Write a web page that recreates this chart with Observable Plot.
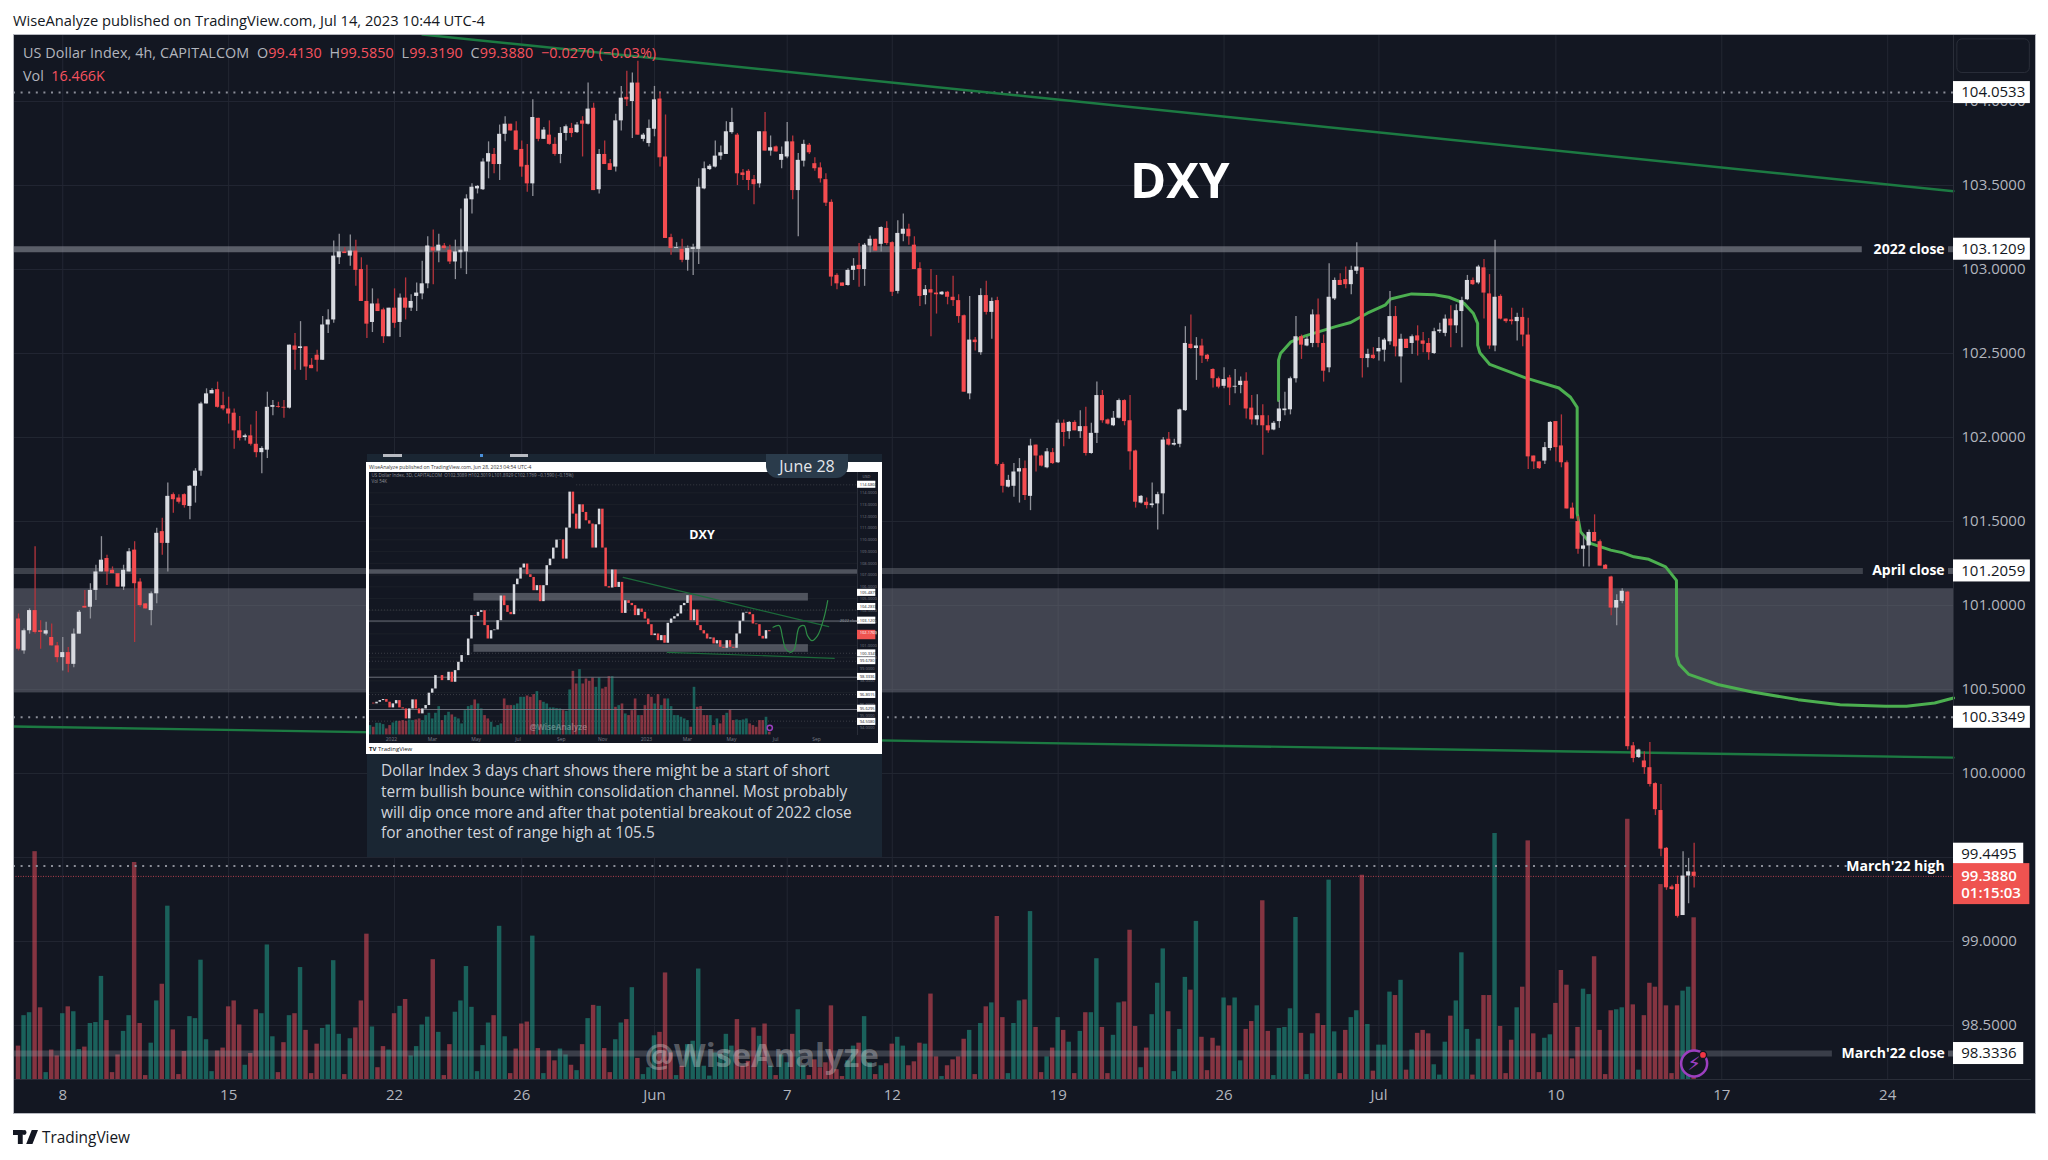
<!DOCTYPE html>
<html><head><meta charset="utf-8">
<script src="https://cdn.jsdelivr.net/npm/d3@7"></script>
<script src="https://cdn.jsdelivr.net/npm/@observablehq/plot@0.6"></script>
<style>
html,body{margin:0;padding:0;background:#fff;font-family:"Open Sans",sans-serif}
#page{position:relative;width:2048px;height:1160px;overflow:hidden;background:#fff}
.abs{position:absolute;white-space:nowrap}
#chart svg,#mini svg{display:block}
</style></head><body>
<div id="page">
<div class="abs" style="left:13px;top:10px;font-size:14.7px;line-height:20px;color:#131722">WiseAnalyze published on TradingView.com, Jul 14, 2023 10:44 UTC-4</div>
<div class="abs" id="chart" style="left:13px;top:34px;width:2023px;height:1080px;outline:1px solid #b6b8bf;outline-offset:-1px"></div>
<div class="abs" style="left:23px;top:43px;font-size:14.35px;color:#b2b5be;letter-spacing:.1px">US Dollar Index, 4h, CAPITALCOM&nbsp;&nbsp;O<span style="color:#f7525f">99.4130</span>&nbsp;&nbsp;H<span style="color:#f7525f">99.5850</span>&nbsp;&nbsp;L<span style="color:#f7525f">99.3190</span>&nbsp;&nbsp;C<span style="color:#f7525f">99.3880</span>&nbsp;&nbsp;<span style="color:#f7525f">−0.0270 (−0.03%)</span></div>
<div class="abs" style="left:23px;top:66px;font-size:14.35px;color:#b2b5be">Vol&nbsp;&nbsp;<span style="color:#f7525f">16.466K</span></div>

<div class="abs" style="left:367px;top:454px;width:515px;height:403px;background:#1a2633"></div>
<div class="abs" style="left:383px;top:454px;width:19px;height:3px;background:#b8bbc2"></div>
<div class="abs" style="left:480px;top:454px;width:3px;height:3px;background:#4a90d9"></div>
<div class="abs" style="left:510px;top:454px;width:18px;height:3px;background:#b8bbc2"></div>
<div class="abs" style="left:366px;top:462px;width:516px;height:292px;background:#fff"></div>
<div class="abs" style="left:369px;top:464px;font-size:5px;color:#333">WiseAnalyze published on TradingView.com, Jun 28, 2023 04:54 UTC-4</div>
<div class="abs" id="mini" style="left:369px;top:472px;width:509px;height:271px"></div>
<div class="abs" style="left:369px;top:745px;font-size:6px;font-weight:700;color:#131722">TV <span style="font-weight:400">TradingView</span></div>
<div class="abs" style="left:766px;top:454px;width:82px;height:24px;border-radius:0 0 12px 12px;background:#2a3b4b;color:#e4e6ea;font-size:16px;line-height:24px;text-align:center">June 28</div>
<div class="abs" style="left:381px;top:760px;width:495px;font-size:15.45px;line-height:20.8px;color:#d1d4dc;white-space:pre-line">Dollar Index 3 days chart shows there might be a start of short
term bullish bounce within consolidation channel. Most probably
will dip once more and after that potential breakout of 2022 close
for another test of range high at 105.5</div>

<svg class="abs" style="left:13px;top:1130px" width="25" height="14" viewBox="0 0 36 20"><path d="M0 0H14V20H7V7H0Z M16 0A3.5 3.5 0 1 1 16 7A3.5 3.5 0 1 1 16 0Z M27 0H36L28 20H19Z" fill="#131722"/></svg>
<div class="abs" style="left:42px;top:1127px;font-size:15.4px;color:#131722">TradingView</div>
</div>
<script>
// ---------- main chart: 4h candles ----------
const open=[100.92,100.73,100.85,100.97,100.85,100.83,100.81,100.76,100.69,100.72,
100.65,100.83,100.995,100.99,101.09,101.20,101.28,101.21,101.19,101.11,
101.20,101.33,101.14,101.01,100.97,101.07,101.44,101.37,101.66,101.64,
101.66,101.59,101.71,101.80,102.20,102.26,102.285,102.19,102.17,102.145,
102.04,102.0,102.01,101.96,101.91,101.925,102.18,102.185,102.18,102.175,
102.545,102.53,102.54,102.43,102.49,102.46,102.67,102.70,103.07,103.105,
103.08,103.11,103.0,102.81,102.685,102.795,102.76,102.60,102.77,102.685,
102.83,102.77,102.84,102.855,102.915,103.13,103.11,103.14,103.115,103.045,
103.1,103.105,103.415,103.48,103.475,103.64,103.685,103.625,103.805,103.865,
103.825,103.715,103.62,103.51,103.9,103.775,103.8,103.745,103.685,103.81,
103.84,103.815,103.885,103.865,103.96,103.475,103.685,103.63,103.61,103.885,
104.025,104.0,104.11,103.775,103.75,103.835,104.015,103.67,103.19,103.125,
103.12,103.055,103.12,103.12,103.48,103.595,103.61,103.675,103.685,103.815,
103.8,103.575,103.585,103.535,103.51,103.82,103.705,103.73,103.65,103.67,
103.76,103.47,103.645,103.74,103.63,103.605,103.535,103.4,102.965,102.92,
102.905,102.995,103.025,103.0,103.14,103.18,103.15,103.245,103.16,102.87,
103.21,103.24,103.145,103.005,102.845,102.88,102.86,102.85,102.865,102.835,
102.815,102.725,102.26,102.58,102.505,102.845,102.745,102.815,101.84,101.705,
101.71,101.795,101.815,101.65,101.955,101.89,101.82,101.91,101.85,102.085,
102.035,102.09,102.035,102.065,101.905,102.025,102.25,102.105,102.07,102.115,
102.22,102.1,101.92,101.61,101.615,101.595,101.605,101.665,101.99,101.955,
101.96,102.16,102.555,102.53,102.545,102.49,102.405,102.35,102.305,102.355,
102.3,102.31,102.335,102.175,102.105,102.13,102.07,102.045,102.095,102.16,
102.165,102.35,102.6,102.545,102.56,102.73,102.56,102.415,102.825,102.935,
102.94,102.91,102.99,103.01,102.47,102.49,102.51,102.52,102.57,102.72,
102.48,102.585,102.56,102.605,102.575,102.56,102.5,102.63,102.62,102.705,
102.665,102.75,102.82,102.935,102.92,103.01,102.855,102.545,102.84,102.705,
102.7,102.69,102.715,102.61,101.89,101.855,101.86,101.935,102.095,101.95,
101.85,101.58,101.5,101.335,101.355,101.435,101.38,101.24,101.17,100.985,
101.025,101.08,100.165,100.095,100.075,100.035,99.94,99.78,99.555,99.325,
99.34,99.155,99.39,99.413];
const high=[100.95,100.86,100.98,101.35,100.91,100.90,100.89,100.78,100.81,100.75,
100.86,100.97,101.09,101.13,101.24,101.41,101.30,101.23,101.19,101.24,
101.34,101.38,101.16,101.01,101.08,101.46,101.52,101.73,101.67,101.66,
101.665,101.715,101.815,102.21,102.29,102.29,102.33,102.27,102.24,102.17,
102.125,102.02,102.075,102.155,101.945,102.27,102.22,102.21,102.22,102.55,
102.62,102.69,102.54,102.47,102.52,102.72,102.76,103.17,103.21,103.13,
103.205,103.175,103.07,103.025,102.885,102.825,102.77,102.77,102.885,102.855,
102.95,102.85,102.92,103.05,103.195,103.235,103.21,103.155,103.145,103.175,
103.36,103.445,103.51,103.50,103.66,103.76,103.72,103.86,103.91,103.865,
103.88,103.765,103.745,104.01,103.9,103.845,103.885,103.785,103.845,103.86,
103.87,103.875,103.91,104.11,103.99,103.715,103.765,103.655,103.925,104.09,
104.18,104.17,104.24,103.81,103.89,104.09,104.055,103.92,103.21,103.16,
103.18,103.14,103.15,103.54,103.64,103.625,103.765,103.735,103.88,103.96,
103.81,103.595,103.595,103.56,103.82,103.935,103.795,103.735,103.73,103.875,
103.795,103.69,103.77,103.75,103.665,103.635,103.57,103.415,102.975,102.92,
103.005,103.065,103.155,103.155,103.2,103.18,103.255,103.285,103.165,103.29,
103.33,103.27,103.195,103.04,102.905,103.0,102.965,102.87,102.87,102.96,
102.85,102.73,102.84,102.595,102.885,102.93,102.83,102.835,101.85,101.775,
101.845,101.875,101.86,101.99,101.955,101.895,101.935,101.935,102.105,102.105,
102.095,102.1,102.16,102.18,102.085,102.33,102.28,102.11,102.155,102.23,
102.225,102.25,101.925,101.655,101.64,101.73,101.675,102.0,102.03,101.99,
102.17,102.66,102.73,102.595,102.585,102.495,102.41,102.36,102.415,102.37,
102.405,102.36,102.385,102.25,102.255,102.195,102.13,102.095,102.22,102.27,
102.36,102.72,102.61,102.6,102.76,102.825,102.61,103.035,102.95,102.975,
103.015,103.02,103.16,103.01,102.525,102.535,102.595,102.59,102.87,102.78,
102.615,102.585,102.61,102.665,102.625,102.59,102.65,102.68,102.73,102.785,
102.79,102.835,102.965,102.95,103.025,103.06,102.97,103.175,102.85,102.705,
102.77,102.74,102.77,102.71,101.89,101.855,101.97,102.095,102.095,102.135,
101.86,101.61,101.53,101.42,101.45,101.54,101.39,101.245,101.175,101.065,
101.1,101.085,100.185,100.145,100.13,100.185,99.945,99.935,99.56,99.335,
99.39,99.535,99.495,99.585];
const low=[100.73,100.71,100.83,100.83,100.74,100.82,100.76,100.66,100.61,100.60,
100.63,100.83,100.985,100.92,101.03,101.20,101.12,101.19,101.11,101.09,
101.20,100.78,100.99,100.98,100.88,101.01,101.30,101.20,101.55,101.605,
101.58,101.51,101.61,101.77,102.20,102.26,102.175,102.16,102.08,101.93,
101.98,101.98,101.95,101.88,101.785,101.875,102.13,102.175,102.115,102.17,
102.40,102.40,102.34,102.41,102.39,102.46,102.62,102.68,103.03,103.095,
103.02,102.90,102.81,102.59,102.625,102.75,102.56,102.60,102.65,102.595,
102.70,102.75,102.75,102.82,102.885,102.91,103.04,103.115,103.03,102.94,
103.005,102.97,103.33,103.45,103.47,103.54,103.57,103.53,103.76,103.825,
103.71,103.55,103.46,103.435,103.76,103.775,103.74,103.675,103.63,103.765,
103.785,103.81,103.67,103.86,103.47,103.45,103.625,103.59,103.58,103.825,
103.97,103.78,103.8,103.76,103.73,103.79,103.61,103.185,103.085,103.125,
103.04,102.99,102.965,103.03,103.475,103.59,103.605,103.65,103.685,103.805,
103.5,103.53,103.47,103.385,103.485,103.705,103.675,103.7,103.6,103.66,
103.415,103.195,103.61,103.685,103.585,103.515,103.375,102.9,102.88,102.9,
102.9,102.935,102.895,102.9,103.1,103.11,103.105,103.145,102.84,102.855,
103.165,103.145,103.0,102.78,102.79,102.6,102.735,102.845,102.79,102.78,
102.68,102.27,102.225,102.515,102.49,102.73,102.585,101.83,101.67,101.7,
101.645,101.61,101.625,101.565,101.795,101.825,101.815,101.84,101.845,101.945,
101.99,102.04,101.995,101.89,101.9,101.965,102.085,102.075,102.065,102.11,
102.07,101.805,101.58,101.605,101.575,101.58,101.45,101.54,101.95,101.95,
101.94,102.155,102.525,102.34,102.44,102.45,102.295,102.29,102.29,102.19,
102.26,102.26,102.11,102.075,102.07,101.895,102.025,102.04,102.055,102.13,
102.135,102.325,102.465,102.54,102.535,102.535,102.33,102.385,102.815,102.905,
102.885,102.85,102.97,102.355,102.415,102.465,102.455,102.45,102.55,102.48,
102.325,102.53,102.495,102.485,102.505,102.46,102.495,102.62,102.6,102.535,
102.62,102.535,102.815,102.905,102.91,102.705,102.525,102.51,102.7,102.68,
102.67,102.575,102.54,101.81,101.81,101.81,101.84,101.92,101.855,101.82,
101.575,101.515,101.305,101.23,101.23,101.38,101.235,101.215,100.94,100.88,
101.01,100.14,100.065,100.09,99.995,99.92,99.75,99.505,99.305,99.305,
99.14,99.155,99.225,99.319];
const close=[100.74,100.85,100.97,100.84,100.84,100.85,100.76,100.69,100.72,100.65,
100.83,100.96,100.985,101.09,101.20,101.27,101.20,101.19,101.11,101.21,
101.32,101.13,101.00,100.98,101.07,101.43,101.37,101.65,101.63,101.615,
101.595,101.71,101.80,102.20,102.26,102.28,102.18,102.17,102.14,102.04,
101.995,102.01,101.96,101.91,101.935,102.18,102.19,102.18,102.175,102.55,
102.52,102.54,102.42,102.41,102.46,102.67,102.70,103.08,103.105,103.095,
103.11,102.995,102.81,102.675,102.795,102.75,102.60,102.77,102.68,102.83,
102.77,102.81,102.86,102.915,103.14,103.11,103.145,103.125,103.045,103.105,
103.115,103.42,103.49,103.495,103.64,103.69,103.625,103.805,103.865,103.825,
103.71,103.61,103.51,103.905,103.775,103.83,103.745,103.685,103.81,103.85,
103.81,103.86,103.865,103.955,103.47,103.685,103.625,103.59,103.885,104.02,
104.01,104.11,103.8,103.8,103.84,104.01,103.665,103.185,103.125,103.13,
103.055,103.125,103.13,103.49,103.6,103.615,103.675,103.695,103.82,103.875,
103.57,103.56,103.53,103.505,103.82,103.705,103.725,103.7,103.685,103.76,
103.47,103.65,103.745,103.695,103.6,103.54,103.395,102.955,102.915,102.9,
102.995,103.02,103.0,103.145,103.18,103.11,103.25,103.155,102.865,103.215,
103.24,103.195,103.0,102.84,102.88,102.86,102.85,102.865,102.835,102.815,
102.72,102.27,102.58,102.565,102.845,102.745,102.81,101.84,101.71,101.745,
101.795,101.815,101.655,101.95,101.89,101.83,101.915,101.845,102.085,102.03,
102.09,102.04,102.065,101.905,102.025,102.25,102.1,102.08,102.115,102.22,
102.095,101.915,101.615,101.65,101.595,101.605,101.66,101.985,101.955,101.965,
102.165,102.56,102.53,102.545,102.485,102.465,102.35,102.3,102.345,102.295,
102.305,102.335,102.17,102.105,102.13,102.07,102.04,102.085,102.17,102.17,
102.35,102.6,102.55,102.585,102.73,102.56,102.395,102.835,102.935,102.905,
102.91,102.995,103.015,102.47,102.495,102.47,102.53,102.58,102.72,102.54,
102.585,102.53,102.6,102.575,102.555,102.505,102.63,102.64,102.705,102.665,
102.755,102.815,102.935,102.91,103.015,102.86,102.545,102.835,102.705,102.69,
102.69,102.715,102.61,101.885,101.855,101.815,101.94,102.09,101.94,101.85,
101.575,101.515,101.335,101.355,101.435,101.38,101.235,101.215,100.985,101.03,
101.085,100.16,100.09,100.14,100.035,99.935,99.785,99.55,99.32,99.31,
99.15,99.39,99.415,99.388];
const volumeK=[3.4,6.5,6.8,23.2,7.3,0.7,3.0,2.4,6.7,7.4,
6.9,3.05,3.3,5.7,5.8,10.5,6.0,0.7,2.5,4.9,
6.5,22.1,5.7,0.4,3.7,8.0,9.7,17.65,5.05,0.5,
2.85,6.4,6.2,12.15,4.05,0.8,2.9,3.2,7.4,8.0,
5.55,1.45,2.65,7.1,6.7,13.7,4.35,0.7,3.75,6.5,
6.7,11.4,5.0,0.6,3.6,5.2,5.55,12.1,4.6,0.5,
4.15,5.25,8.0,14.8,5.35,1.2,3.35,3.0,6.7,7.45,
8.15,2.4,3.35,5.55,6.35,12.2,4.8,0.4,3.55,6.85,
8.0,11.5,7.35,0.8,3.45,5.75,6.5,15.6,4.35,0.6,
3.1,5.65,5.85,14.6,3.15,0.6,2.9,1.9,3.1,2.5,
1.45,0.9,3.55,6.2,7.55,7.45,3.15,0.7,4.05,5.75,
6.1,9.35,2.15,0.5,1.2,4.45,4.8,10.85,2.7,0.4,
1.35,3.55,3.9,11.25,1.35,0.35,2.7,2.55,4.6,3.4,
6.1,1.35,1.85,5.25,4.4,5.65,1.35,0.4,2.5,1.7,
4.6,7.1,1.4,0.4,2.0,1.2,1.7,7.5,1.0,0.3,
1.9,3.4,3.7,6.4,1.7,0.5,1.4,1.6,3.6,4.3,
3.4,1.4,1.8,3.7,3.6,8.7,2.3,0.3,1.4,2.0,
2.3,4.1,5.0,0.5,5.7,7.4,7.8,16.6,6.3,0.6,
5.7,8.0,8.1,17.1,5.3,0.7,2.3,3.2,6.3,5.0,
3.8,0.6,4.9,6.8,6.8,12.3,5.3,0.6,4.5,7.8,
7.9,15.2,5.4,1.2,3.2,6.6,9.8,13.3,6.9,0.8,
5.1,10.4,9.1,16.1,4.3,0.9,4.2,3.4,8.3,7.5,
8.3,1.9,5.1,5.9,7.5,18.2,4.9,0.4,5.2,5.3,
7.2,16.5,4.7,0.5,4.65,6.7,5.5,20.3,4.85,0.6,
5.0,6.3,7.0,20.8,5.6,0.85,3.5,3.5,8.9,8.55,
10.1,0.95,3.0,4.7,5.0,4.65,1.5,0.45,3.8,6.45,
8.0,12.9,5.1,0.45,4.1,8.55,8.55,25.05,5.4,0.6,
4.0,7.3,9.4,24.3,4.65,0.7,4.2,4.55,7.75,11.1,
9.6,2.1,5.3,9.2,8.65,12.5,5.0,0.5,7.0,7.1,
7.3,26.5,7.6,0.95,6.5,9.8,9.4,19.85,7.5,0.6,
7.5,9.0,9.4,16.466];
const timeTicks=[8,38,68,91,115,139,158,188,218,246,278,308,338];
const timeLabels=["8","15","22","26","Jun","7","12","19","26","Jul","10","17","24"];
const priceTicks=[98.5,99,99.5,100,100.5,101,101.5,102,102.5,103,103.5,104];
const curveBar=[227.85,227.85,228.2,230.1,232.7,238.15,240.9,243.9,247.2,248.1,251.9,256.05,258.65,261.35,263.05,263.85,263.85,264.25,266.05,272.5,278.55,280.65,281.85,281.85,282.45,284.25,287.9,290,292.1,294.8,297.85,299.8,299.85,300.3,302.05,307.25,313.55,321.8,329.4,337.6,341.4,346.5,349.9];
const curvePrice=[102.22,102.46,102.5,102.57,102.605,102.66,102.685,102.74,102.79,102.825,102.855,102.85,102.835,102.8,102.74,102.68,102.55,102.505,102.435,102.355,102.295,102.24,102.18,101.55,101.44,101.37,101.33,101.315,101.29,101.275,101.23,101.15,100.7,100.65,100.59,100.53,100.485,100.44,100.41,100.40,100.40,100.42,100.45];
const levelNames=["2022 close","April close","March'22 high","March'22 close"];
const levelPrices=[103.1209,101.2059,99.4495,98.3336];
const axisTags=["104.0533","103.1209","101.2059","100.3349","99.4495","98.3336"];
const axisTagCentre=[104.0533,103.1209,101.2059,100.3349,99.52,98.3336];

// ---------- inset chart: 3-day closes and volume ----------
const miniClose=[96.10,96.04,96.18,96.32,96.41,96.18,95.70,96.04,96.32,95.70,95.61,94.76,95.61,96.38,
95.61,95.19,95.61,95.90,96.95,97.31,98.45,98.45,98.02,98.02,98.73,97.88,98.87,99.58,100.15,100.15,
101.56,103.55,103.49,103.83,103.97,102.70,101.56,102.27,102.33,103.12,105.22,104.40,103.83,103.63,
106.18,106.66,107.6,107.94,107.03,106.80,105.67,106.10,104.74,106.10,107.80,108.36,109.30,109.98,
110.0,108.36,111.0,114.06,112.19,110.91,112.98,112.33,111.62,111.34,109.30,111.28,112.61,109.30,
106.01,105.90,107.43,105.95,106.38,103.74,104.82,104.59,104.40,103.55,104.11,103.83,103.26,102.78,
101.85,101.99,101.42,101.85,101.20,102.90,103.26,103.46,103.69,104.40,104.59,105.25,103.12,104.03,
102.70,102.27,101.99,101.56,101.65,101.14,101.42,100.86,100.77,101.42,100.86,100.77,101.99,103.07,
103.77,103.83,103.63,102.84,102.78,101.79,101.56,102.27,102.18];
const miniVolume=[28,23,35,35,31,18,28,36,41,41,43,41,45,43,45,48,43,58,65,48,65,85,43,58,68,60,53,48,33,73,
85,88,105,93,78,58,48,38,23,28,33,108,88,88,88,93,113,113,117,113,121,130,103,98,93,81,81,79,78,73,
71,135,191,153,196,153,168,161,171,143,171,138,143,175,175,83,88,93,63,58,73,108,58,58,88,121,113,93,121,88,
108,108,85,58,58,53,48,43,23,143,83,85,58,58,58,28,48,33,58,65,75,43,45,43,45,48,33,28,23,43,43,53,8];
const miniPriceTicks=[94,95,96,97,98,99,100,101,102,103,104,105,106,107,108,109,110,111,112,113,114];
const miniTimePos=[6.4,18.9,32.3,45.1,58.3,70.9,84.3,96.8,110.3,123.8,136.3];
const miniTimeLab=["2022","Mar","May","Jul","Sep","Nov","2023","Mar","May","Jul","Sep"];
const miniTagPrice=[114.686,105.4879,104.2833,103.1209,100.3349,99.678,98.3336,96.8015,95.6295,94.508];
const miniTagText=["114.6860","105.4879","104.2833","103.1209","100.3349","99.6780","98.3336","96.8015","95.6295","94.5080"];
const miniGuessBar=[123,124.9,125.9,126.9,128.4,129.5,131,132.5,133.5,134.9,136.6,138.6,139.7];
const miniGuessPrice=[102.56,102.7,101.7,100.71,100.43,100.71,102.56,102.7,101.85,101.42,101.85,103.41,104.82];

const BG="#131722",GRID="#232733",UP="#d8dae0",DOWN="#f44c50",UPW="#8e9098",DOWNW="#b5343c";
const xMin=-0.904,xAxis=349.9,yTop=104.399,yBot=98.179;
const pricePerK=0.05845,boxHalf=0.0655;
const rows=close.map((c,i)=>({i,o:open[i],h:high[i],l:low[i],c,v:volumeK[i],up:c>=open[i]}));
const upRows=rows.filter(d=>d.up),downRows=rows.filter(d=>!d.up);
const bar=.37;
const main=Plot.plot({
  width:2023,height:1080,marginLeft:0,marginRight:83,marginTop:0,marginBottom:35,
  style:{background:BG,fontFamily:"Open Sans, sans-serif"},
  x:{type:"linear",domain:[xMin,xAxis],label:null},
  y:{domain:[yBot,yTop],label:null},
  marks:[
    Plot.ruleX(timeTicks,{stroke:GRID}),
    Plot.ruleY(priceTicks,{stroke:GRID,x1:xMin,x2:xAxis}),
    Plot.rect([{a:100.48,b:101.10}],{x1:()=>xMin,x2:()=>xAxis,y1:"a",y2:"b",fill:"#6f727d",fillOpacity:.5}),
    Plot.rect(upRows,{x1:d=>d.i-.4,x2:d=>d.i+.4,y1:()=>yBot,y2:d=>yBot+d.v*pricePerK,fill:"#22ab94",fillOpacity:.5}),
    Plot.rect(downRows,{x1:d=>d.i-.4,x2:d=>d.i+.4,y1:()=>yBot,y2:d=>yBot+d.v*pricePerK,fill:"#f7525f",fillOpacity:.5}),
    Plot.ruleY([103.1209],{x1:xMin,x2:333.4,stroke:"#8b8e98",strokeOpacity:.6,strokeWidth:6}),
    Plot.ruleY([101.2059],{x1:xMin,x2:333.6,stroke:"#787b86",strokeOpacity:.42,strokeWidth:6}),
    Plot.ruleY([98.3336],{x1:xMin,x2:328,stroke:"#a3a6af",strokeOpacity:.28,strokeWidth:6}),
    Plot.ruleY([103.1209,101.2059,98.3336],{x1:349,x2:xAxis,stroke:"#787b86",strokeOpacity:.6,strokeWidth:6}),
    Plot.ruleY([104.0533,100.3349],{x1:xMin,x2:xAxis,stroke:"#8b8e98",strokeWidth:2,strokeDasharray:"2 5.6"}),
    Plot.ruleY([99.4495],{x1:xMin,x2:331,stroke:"#8b8e98",strokeWidth:2,strokeDasharray:"2 5.6"}),
    Plot.ruleY([99.388],{x1:xMin,x2:xAxis,stroke:"#f7525f",strokeOpacity:.7,strokeWidth:1,strokeDasharray:"1 1.5"}),
    Plot.line([{b:73,p:104.399},{b:xAxis,p:103.466}],{x:"b",y:"p",stroke:"#1c7a42",strokeWidth:2.4}),
    Plot.line([{b:xMin,p:100.28},{b:xAxis,p:100.095}],{x:"b",y:"p",stroke:"#1c7a42",strokeWidth:2.4}),
    Plot.line(curveBar.map((b,k)=>({b,p:curvePrice[k]})),{x:"b",y:"p",stroke:"#4caf50",strokeWidth:3}),
    Plot.ruleX(upRows,{x:"i",y1:"l",y2:"h",stroke:UPW,strokeWidth:1.3}),
    Plot.ruleX(downRows,{x:"i",y1:"l",y2:"h",stroke:DOWNW,strokeWidth:1.3}),
    Plot.rect(upRows,{x1:d=>d.i-bar,x2:d=>d.i+bar,y1:"o",y2:"c",fill:UP}),
    Plot.rect(downRows,{x1:d=>d.i-bar,x2:d=>d.i+bar,y1:"o",y2:"c",fill:DOWN}),
    Plot.ruleX([xAxis],{stroke:"#2a2e39"}),
    Plot.ruleY([yBot],{x1:xMin,x2:364,stroke:"#2a2e39"}),
    Plot.axisX({ticks:timeTicks,tickFormat:d=>timeLabels[timeTicks.indexOf(d)],tickSize:0,tickPadding:10,fontSize:15,fill:"#b2b5be",label:null,anchor:"bottom"}),
    Plot.axisY({ticks:priceTicks,tickFormat:d=>d.toFixed(4),tickSize:0,tickPadding:8,fontSize:15,fill:"#b2b5be",label:null,anchor:"right"}),
    Plot.rect([{x1:350.6,x2:363.7,y1:104.17,y2:104.37}],{x1:"x1",x2:"x2",y1:"y1",y2:"y2",fill:"none",stroke:"#2a2e39",rx:5}),
    Plot.rect(axisTags,{x1:()=>xAxis,x2:t=>xAxis+(t.length>7?13.9:12.7),y1:(t,k)=>axisTagCentre[k]-boxHalf,y2:(t,k)=>axisTagCentre[k]+boxHalf,fill:"#fff"}),
    Plot.text(axisTags,{x:()=>351.3,y:(t,k)=>axisTagCentre[k],text:t=>t,textAnchor:"start",fill:"#131722",fontSize:15}),
    Plot.rect([{a:99.22,b:99.464}],{x1:()=>xAxis,x2:()=>xAxis+13.8,y1:"a",y2:"b",fill:"#ef5350"}),
    Plot.text(["99.3880"],{x:()=>351.3,y:()=>99.39,text:t=>t,textAnchor:"start",fill:"#fff",fontSize:15,fontWeight:600}),
    Plot.text(["01:15:03"],{x:()=>351.3,y:()=>99.285,text:t=>t,textAnchor:"start",fill:"#fff",fontSize:15,fontWeight:600}),
    Plot.text(levelNames,{x:()=>348.3,y:(t,k)=>levelPrices[k],text:t=>t,textAnchor:"end",fill:"#fff",fontSize:14,fontWeight:700}),
    Plot.text(["DXY"],{x:()=>210,y:()=>103.52,text:t=>t,fill:"#fff",fontSize:49,fontWeight:700}),
    Plot.text(["@WiseAnalyze"],{x:()=>134.4,y:()=>98.315,text:t=>t,fill:"#fff",fillOpacity:.3,fontSize:32.7,fontWeight:700}),
    Plot.dot([{b:303,p:98.274}],{x:"b",y:"p",r:13,stroke:"#9c3fc0",strokeWidth:2.5,fill:"#131722"}),
    Plot.text(["⚡"],{x:()=>303,y:()=>98.274,text:t=>t,fill:"#9c3fc0",fontSize:19,fontFamily:"DejaVu Sans"}),
    Plot.dot([{b:304.6,p:98.325}],{x:"b",y:"p",r:3.6,fill:"#f23645",stroke:"#131722"})
  ]
});
document.getElementById("chart").appendChild(main);

const miniRows=miniClose.map((c,k)=>{const o=k?miniClose[k-1]:c;return {k,o,c,v:miniVolume[k],up:c>=o}});
const mBase=93.4,mPerV=1/35.3,mXmax=148.8,mYtop=115.73,mYbot=93.35;
const GREEN="#1c6a3a";
const mini=Plot.plot({
  width:509,height:271,marginLeft:0,marginRight:21,marginTop:0,marginBottom:8,
  style:{background:BG,fontFamily:"Open Sans, sans-serif"},
  x:{type:"linear",domain:[-0.3,mXmax],label:null,axis:null},
  y:{domain:[mYbot,mYtop],label:null,axis:null},
  marks:[
    Plot.ruleY(miniPriceTicks,{x1:-0.3,x2:mXmax,stroke:"#1c2029"}),
    Plot.ruleY([104.03,100.35,99.67,96.83,94.57],{x1:-0.3,x2:mXmax,stroke:"#4a4c55",strokeDasharray:"1 2",strokeWidth:.7}),
    Plot.ruleY([114.68],{x1:63,x2:mXmax,stroke:"#4a4c55",strokeDasharray:"1 2",strokeWidth:.7}),
    Plot.rect(miniRows,{x1:d=>d.k-.4,x2:d=>d.k+.4,y1:()=>mBase,y2:d=>mBase+d.v*mPerV,fill:d=>d.up?"#22ab94":"#f7525f",fillOpacity:.5}),
    Plot.ruleY([107.31],{x1:-0.3,x2:mXmax,stroke:"#787b86",strokeOpacity:.6,strokeWidth:4.5}),
    Plot.ruleY([103.09,98.31,95.56],{x1:-0.3,x2:mXmax,stroke:"#787b86",strokeOpacity:.9,strokeWidth:1}),
    Plot.rect([{a:104.79,b:105.44},{a:100.43,b:101.08}],{x1:()=>31.6,x2:()=>133.8,y1:"a",y2:"b",fill:"#787b86",fillOpacity:.6}),
    Plot.line([{k:77.2,p:106.8},{k:140,p:102.61}],{x:"k",y:"p",stroke:GREEN,strokeWidth:1.2}),
    Plot.line([{k:90.7,p:100.43},{k:141.7,p:99.92}],{x:"k",y:"p",stroke:GREEN,strokeWidth:1.2}),
    Plot.line(miniGuessBar.map((k,i)=>({k,p:miniGuessPrice[i]})),{x:"k",y:"p",stroke:"#2e8b46",strokeWidth:1.2,curve:"catmull-rom"}),
    Plot.rect(miniRows,{x1:d=>d.k-.38,x2:d=>d.k+.38,y1:"o",y2:"c",fill:d=>d.up?UP:DOWN}),
    Plot.ruleX([mXmax],{stroke:"#2a2e39"}),
    Plot.text(miniPriceTicks,{x:()=>mXmax+.7,y:d=>d,text:d=>d.toFixed(4),textAnchor:"start",fontSize:4,fill:"#787b86"}),
    Plot.rect(miniTagPrice,{x1:()=>mXmax,x2:()=>mXmax+5.6,y1:d=>d-.3,y2:d=>d+.3,fill:"#fff"}),
    Plot.text(miniTagPrice,{x:()=>mXmax+.7,y:d=>d,text:(d,i)=>miniTagText[i],textAnchor:"start",fontSize:4,fill:"#131722"}),
    Plot.rect([{a:101.5,b:102.3}],{x1:()=>mXmax,x2:()=>mXmax+5.6,y1:"a",y2:"b",fill:"#ef5350"}),
    Plot.text(["102.1769"],{x:()=>mXmax+.7,y:()=>102.1,text:t=>t,textAnchor:"start",fontSize:4,fill:"#fff"}),
    Plot.text(miniTimePos,{x:d=>d,y:()=>93.04,text:(d,i)=>miniTimeLab[i],fontSize:5,fill:"#787b86"}),
    Plot.text(["DXY"],{x:()=>101.3,y:()=>110.43,text:t=>t,fill:"#fff",fontSize:12.5,fontWeight:700}),
    Plot.text(["2022 close"],{x:()=>146.4,y:()=>103.1,text:t=>t,textAnchor:"middle",fill:"#9fa2ab",fontSize:4}),
    Plot.text(["@WiseAnalyze"],{x:()=>57.4,y:()=>94.0,text:t=>t,fill:"#fff",fillOpacity:.3,fontSize:8,fontWeight:700}),
    Plot.text(["US Dollar Index, 3D, CAPITALCOM  O102.3089 H102.3019 L101.8929 C102.1769 −0.1590 (−0.15%)"],{x:()=>.3,y:()=>115.45,text:t=>t,textAnchor:"start",fill:"#8e9098",fontSize:4.5}),
    Plot.text(["Vol 54K"],{x:()=>.3,y:()=>114.95,text:t=>t,textAnchor:"start",fill:"#8e9098",fontSize:4.5}),
    Plot.text(["USD"],{x:()=>mXmax+1.5,y:()=>115.4,text:t=>t,textAnchor:"start",fill:"#8e9098",fontSize:4}),
    Plot.dot([{k:122,p:94.0}],{x:"k",y:"p",r:2.6,stroke:"#9c3fc0",fill:BG})
  ]
});
document.getElementById("mini").appendChild(mini);
</script>
</body></html>
